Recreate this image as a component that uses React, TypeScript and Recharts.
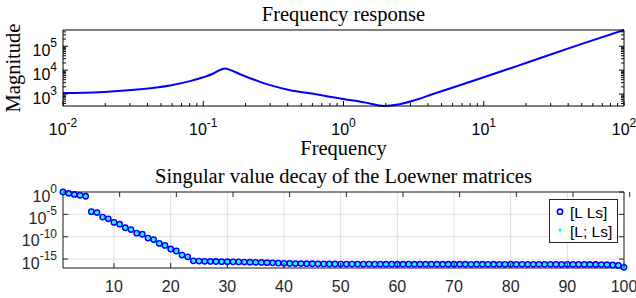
import React from 'react';
import { ComposedChart, Line, XAxis, YAxis, CartesianGrid, Legend } from 'recharts';

// top panel: frequency response
const freq = [0.01, 0.0184, 0.0354, 0.058, 0.0804, 0.1, 0.118, 0.131, 0.143, 0.155, 0.183, 0.254, 0.3, 0.41, 0.638, 1, 1.44, 1.94, 2.5, 3.1, 4.3, 10, 20, 50, 100];
const magnitude = [1100, 1200, 1580, 2290, 3470, 5010, 7240, 10000, 11750, 10230, 6760, 3240, 2370, 1480, 977, 617, 437, 316, 372, 513, 977, 5010, 19950, 125900, 478600];

const freqTicks = [0.01, 0.1, 1, 10, 100];
const magTicks = [1e3, 1e4, 1e5];

// bottom panel: normalized singular values, stored as log10
const svIndex = Array.from({ length: 100 }, (_, i) => i + 1);
const svLogRow = [
  0, -0.3, -0.55, -0.75, -0.95, -4.4, -4.6, -5.6, -6.0, -6.8,
  -7.2, -8.0, -8.4, -9.2, -9.45, -10.3, -10.65, -11.5, -11.95, -12.75,
  -13.2, -14.1, -14.5, -15.4, -15.45, -15.5, -15.52, -15.55, -15.58, -15.6,
  -15.62, -15.64, -15.67, -15.7, -15.72, -15.75, -15.8, -15.85, -15.9, -15.95,
  -15.97, -16.0, -16.02, -16.04, -16.05, -16.07, -16.08, -16.1, -16.11, -16.12,
  -16.13, -16.12, -16.13, -16.14, -16.13, -16.14, -16.14, -16.15, -16.14, -16.15,
  -16.15, -16.14, -16.15, -16.16, -16.15, -16.15, -16.16, -16.15, -16.16, -16.16,
  -16.15, -16.16, -16.17, -16.16, -16.16, -16.17, -16.16, -16.17, -16.17, -16.16,
  -16.17, -16.17, -16.18, -16.17, -16.18, -16.18, -16.17, -16.18, -16.19, -16.18,
  -16.19, -16.2, -16.2, -16.21, -16.22, -16.24, -16.27, -16.32, -16.42, -16.85,
];
// [L; Ls] lies on top of [L Ls] everywhere in the picture
const svLogCol = svLogRow;

const indexTicks = [10, 20, 30, 40, 50, 60, 70, 80, 90, 100];
const svTicks = [1e-15, 1e-10, 1e-5, 1];
const legendNames = ['[L Ls]', '[L; Ls]'];

const SANS = 'Liberation Sans, Arial, sans-serif';
const SERIF = 'Liberation Serif, Times New Roman, serif';
const BLUE = '#0000ff';
const CYAN = '#00ffff';

// log-axis tick list with 2..9 minors inside [lo, hi]
const logTicks = (lo: number, hi: number) => {
  const out: number[] = [];
  for (let n = Math.floor(Math.log10(lo)); n <= Math.ceil(Math.log10(hi)); n++) {
    for (let k = 1; k <= 9; k++) {
      const v = k * Math.pow(10, n);
      if (v >= lo * 0.9999 && v <= hi * 1.0001) out.push(v);
    }
  }
  return out;
};

const isIn = (v: number, list: number[]) => list.some((m) => Math.abs(v - m) <= Math.abs(m) * 1e-6);

const Pow = ({ x, y, v, anchor, color }: any) => (
  <text x={x} y={y} textAnchor={anchor} fontFamily={SANS} fontSize={16} fill={color}>
    10<tspan dy={-8.5} fontSize={12}>{Math.round(Math.log10(v))}</tspan>
  </text>
);

// ticks point inward (MATLAB style); tickSize=0 so x/y are on the axis line
const makeTick = (side: string, majors: number[], color: string, kind?: string) => (props: any) => {
  const { x, y, payload } = props;
  const v = payload.value;
  const major = isIn(v, majors);
  const len = major ? 5 : 3;
  const dx = side === 'left' ? len : side === 'right' ? -len : 0;
  const dy = side === 'bottom' ? -len : side === 'top' ? len : 0;
  let label = null;
  if (major && kind === 'powX') label = <Pow x={x} y={y + 29} v={v} anchor="middle" color={color} />;
  if (major && kind === 'powY') label = <Pow x={x - 6} y={y + 9.5} v={v} anchor="end" color={color} />;
  if (major && kind === 'lin')
    label = (
      <text x={x} y={y + 23.5} textAnchor="middle" fontFamily={SANS} fontSize={16} fill={color}>
        {v}
      </text>
    );
  return (
    <g>
      <line x1={x} y1={y} x2={x + dx} y2={y + dy} stroke={color} strokeWidth={1} />
      {label}
    </g>
  );
};

const serifText = (text: string, x: number, y: number, rotate = false) => (
  <text
    x={x}
    y={y}
    textAnchor="middle"
    fontFamily={SERIF}
    fontSize={20.5}
    fill="#000"
    transform={rotate ? `rotate(-90 ${x} ${y})` : undefined}
  >
    {text}
  </text>
);

const LegendBox = () => (
  <svg width={69} height={44} style={{ display: 'block' }}>
    <rect x={0.5} y={0.5} width={68} height={43} fill="#fff" stroke="#262626" />
    <circle cx={11} cy={12.7} r={2.6} fill="none" stroke={BLUE} strokeWidth={1.6} />
    <circle cx={11} cy={31} r={1.7} fill={CYAN} />
    <text x={21} y={19} fontFamily={SANS} fontSize={15.5} fill="#000">{legendNames[0]}</text>
    <text x={21} y={37.5} fontFamily={SANS} fontSize={15.5} fill="#000">{legendNames[1]}</text>
  </svg>
);

const FrequencyPanel = () => {
  const data = freq.map((f, i) => ({ f, mag: magnitude[i] }));
  const magDomain = [Math.min(...magnitude), Math.max(...magnitude)];
  const fTicks = logTicks(freq[0], freq[freq.length - 1]);
  const mTicks = logTicks(magDomain[0], magDomain[1]);
  const AX = '#000';
  return (
    <ComposedChart width={636} height={162} data={data} margin={{ top: 25, right: 7, bottom: 26, left: 13 }}>
      <XAxis
        dataKey="f"
        type="number"
        scale="log"
        domain={[0.01, 100]}
        ticks={fTicks}
        interval={0}
        tickSize={0}
        tickMargin={0}
        height={30}
        stroke={AX}
        tick={makeTick('bottom', freqTicks, AX, 'powX')}
        label={{ content: (p: any) => serifText('Frequency', p.viewBox.x + p.viewBox.width / 2, p.viewBox.y + 49) }}
      />
      <XAxis
        xAxisId="top"
        orientation="top"
        type="number"
        scale="log"
        domain={[0.01, 100]}
        allowDataOverflow
        ticks={fTicks}
        interval={0}
        tickSize={0}
        tickMargin={0}
        height={5}
        stroke={AX}
        tick={makeTick('top', freqTicks, AX)}
        label={{ content: (p: any) => serifText('Frequency response', p.viewBox.x + p.viewBox.width / 2, p.viewBox.y - 4.5) }}
      />
      <YAxis
        type="number"
        scale="log"
        domain={magDomain}
        ticks={mTicks}
        interval={0}
        tickSize={0}
        tickMargin={0}
        width={50}
        stroke={AX}
        tick={makeTick('left', magTicks, AX, 'powY')}
        label={{ content: (p: any) => serifText('Magnitude', p.viewBox.x + 7, p.viewBox.y + p.viewBox.height / 2, true) }}
      />
      <YAxis
        yAxisId="right"
        orientation="right"
        type="number"
        scale="log"
        domain={magDomain}
        allowDataOverflow
        ticks={mTicks}
        interval={0}
        tickSize={0}
        tickMargin={0}
        width={5}
        stroke={AX}
        tick={makeTick('right', magTicks, AX)}
      />
      <Line dataKey="mag" type="monotone" stroke={BLUE} strokeWidth={2} dot={false} activeDot={false} isAnimationActive={false} />
    </ComposedChart>
  );
};

const SingularPanel = () => {
  const data = svIndex.map((k, i) => ({ k, row: Math.pow(10, svLogRow[i]), col: Math.pow(10, svLogCol[i]) }));
  const AX = '#262626';
  return (
    <ComposedChart width={636} height={136} data={data} margin={{ top: 25, right: 7, bottom: 5, left: 13 }}>
      <CartesianGrid stroke="#dfdfdf" />
      <XAxis
        dataKey="k"
        type="number"
        domain={[1, 100]}
        ticks={indexTicks}
        interval={0}
        tickSize={0}
        tickMargin={0}
        height={25}
        stroke={AX}
        tick={makeTick('bottom', indexTicks, AX, 'lin')}
      />
      <XAxis
        xAxisId="top"
        orientation="top"
        type="number"
        domain={[1, 100]}
        allowDataOverflow
        ticks={indexTicks}
        interval={0}
        tickSize={0}
        tickMargin={0}
        height={5}
        stroke={AX}
        tick={makeTick('top', indexTicks, AX)}
        label={{
          content: (p: any) =>
            serifText('Singular value decay of the Loewner matrices', p.viewBox.x + p.viewBox.width / 2, p.viewBox.y - 4.5),
        }}
      />
      <YAxis
        type="number"
        scale="log"
        domain={[1e-17, 1]}
        ticks={svTicks}
        interval={0}
        tickSize={0}
        tickMargin={0}
        width={50}
        stroke={AX}
        tick={makeTick('left', svTicks, AX, 'powY')}
      />
      <YAxis
        yAxisId="right"
        orientation="right"
        type="number"
        scale="log"
        domain={[1e-17, 1]}
        allowDataOverflow
        ticks={svTicks}
        interval={0}
        tickSize={0}
        tickMargin={0}
        width={5}
        stroke={AX}
        tick={makeTick('right', svTicks, AX)}
      />
      <Line
        dataKey="row"
        name={legendNames[0]}
        stroke="none"
        dot={{ r: 2.6, stroke: BLUE, strokeWidth: 1.6, fill: 'none' }}
        activeDot={false}
        isAnimationActive={false}
      />
      <Line
        dataKey="col"
        name={legendNames[1]}
        stroke="none"
        dot={{ r: 1.7, stroke: 'none', fill: CYAN }}
        activeDot={false}
        isAnimationActive={false}
      />
      <Legend
        layout="vertical"
        align="center"
        verticalAlign="middle"
        content={() => <LegendBox />}
        wrapperStyle={{ left: 549, top: 37, width: 69, height: 44 }}
      />
    </ComposedChart>
  );
};

export default function App() {
  return (
    <div style={{ position: 'absolute', left: 0, top: 0, width: 636, height: 298, background: '#fff' }}>
      <div style={{ position: 'absolute', left: 0, top: 0 }}>
        <FrequencyPanel />
      </div>
      <div style={{ position: 'absolute', left: 0, top: 162 }}>
        <SingularPanel />
      </div>
    </div>
  );
}
